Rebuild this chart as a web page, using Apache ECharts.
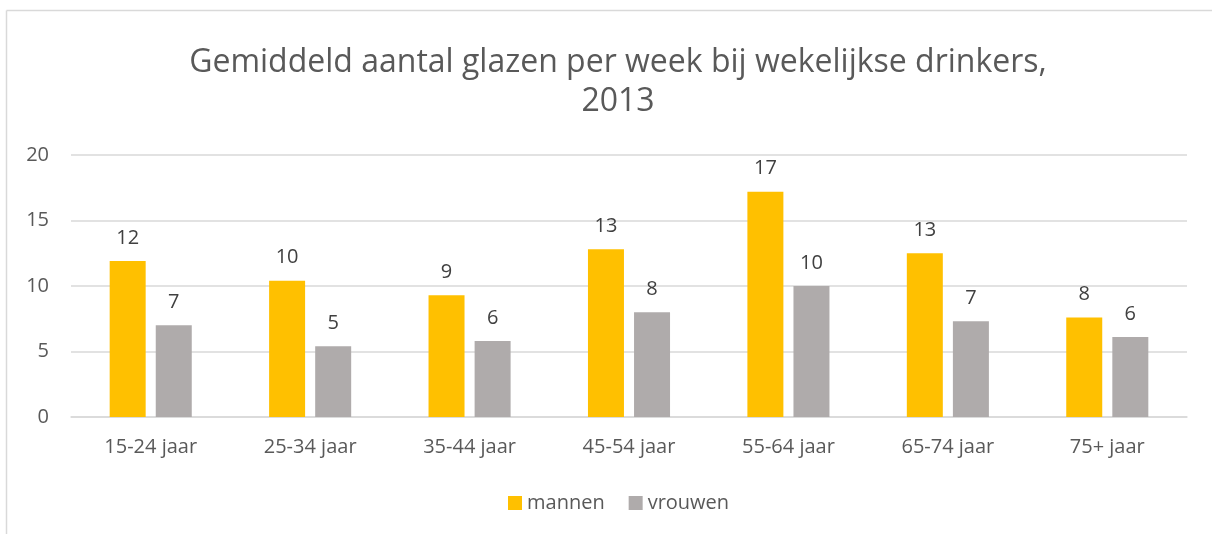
<!DOCTYPE html>
<html>
<head>
<meta charset="utf-8">
<script src="https://cdn.jsdelivr.net/npm/echarts@6/dist/echarts.min.js"></script>
<style>html,body{margin:0;padding:0;background:#fff}#c{width:1212px;height:534px}</style>
</head>
<body>
<div id="c"></div>
<script>
const categories = ['15-24 jaar','25-34 jaar','35-44 jaar','45-54 jaar','55-64 jaar','65-74 jaar','75+ jaar'];
const mannen = [11.9, 10.4, 9.3, 12.8, 17.2, 12.5, 7.6];
const vrouwen = [7.0, 5.4, 5.8, 8.0, 10.0, 7.3, 6.1];
const yTicks = [0, 5, 10, 15, 20];

const font = '"Open Sans", sans-serif';
const chart = echarts.init(document.getElementById('c'), null, {renderer: 'canvas'});
const labelCfg = {
  show: true, position: 'top', distance: 13,
  color: '#404040', fontSize: 20, fontFamily: font,
  formatter: p => Math.round(p.value)
};
chart.setOption({
  animation: false,
  backgroundColor: '#fff',
  title: {
    text: 'Gemiddeld aantal glazen per week bij wekelijkse drinkers,\n2013',
    left: 613, top: 38, textAlign: 'center',
    textStyle: {fontFamily: font, fontSize: 32, fontWeight: 'normal', color: '#595959', lineHeight: 39}
  },
  graphic: [
    {type: 'line', shape: {x1: 6.5, y1: 10.5, x2: 1212, y2: 10.5}, style: {stroke: '#D9D9D9', lineWidth: 1.5}},
    {type: 'line', shape: {x1: 6.5, y1: 10.5, x2: 6.5, y2: 534}, style: {stroke: '#D9D9D9', lineWidth: 1.5}}
  ],
  legend: {
    data: ['mannen', 'vrouwen'],
    top: 488, left: 503,
    itemWidth: 14, itemHeight: 14, itemGap: 24,
    icon: 'rect',
    textStyle: {fontFamily: font, fontSize: 20, color: '#595959', padding: [0, 0, 0, 0]}
  },
  grid: {left: 71, right: 25, top: 155, bottom: 117, containLabel: false},
  xAxis: {
    type: 'category', data: categories,
    axisLine: {lineStyle: {color: '#D9D9D9', width: 1.5}},
    axisTick: {show: false},
    axisLabel: {fontFamily: font, fontSize: 20, color: '#595959', margin: 20}
  },
  yAxis: {
    type: 'value', min: yTicks[0], max: yTicks[yTicks.length - 1], interval: 5,
    axisLine: {show: false}, axisTick: {show: false},
    splitLine: {lineStyle: {color: '#D9D9D9', width: 1.5}},
    axisLabel: {fontFamily: font, fontSize: 20, color: '#595959', margin: 22}
  },
  series: [
    {name: 'mannen', type: 'bar', data: mannen, barWidth: 36, barGap: '28%',
     itemStyle: {color: '#FFC000'}, label: labelCfg},
    {name: 'vrouwen', type: 'bar', data: vrouwen, barWidth: 36, barGap: '28%',
     itemStyle: {color: '#AFABAB'}, label: labelCfg}
  ]
});
</script>
</body>
</html>
